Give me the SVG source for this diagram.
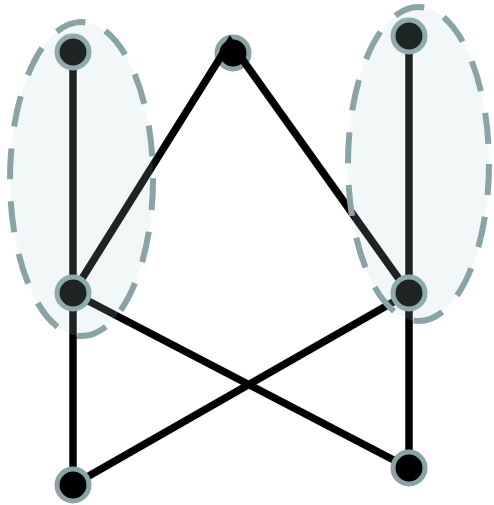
<svg xmlns="http://www.w3.org/2000/svg" width="494" height="505" viewBox="0 0 494 505">
<style>
.edge{fill:none;stroke:#000;stroke-width:7.5;stroke-linejoin:miter;stroke-miterlimit:10}
.node{fill:#000;stroke:#8aa3a5;stroke-width:5}
.group{fill:#b0d4d8;fill-opacity:0.17;stroke:#8aa3a5;stroke-width:6;stroke-dasharray:31 22}
</style>
<rect width="494" height="505" fill="#fff"/>
<g id="n-top"><circle class="node" cx="233" cy="53" r="16"/></g>
<g id="connectors">
<line class="edge" x1="73" y1="52" x2="73" y2="293"/>
<line class="edge" x1="73" y1="293" x2="73" y2="485"/>
<line class="edge" x1="409" y1="36" x2="409" y2="293"/>
<line class="edge" x1="409" y1="293" x2="409" y2="468"/>
<line class="edge" x1="73" y1="293" x2="409" y2="468"/>
<line class="edge" x1="73" y1="485" x2="409" y2="293"/>
<polyline class="edge" points="73,293 230,42 409,293"/>
</g>
<g id="n-tl"><circle class="node" cx="73" cy="52" r="16"/></g>
<g id="n-tr"><circle class="node" cx="409" cy="36" r="16"/></g>
<g id="n-ml"><circle class="node" cx="73" cy="293" r="16"/></g>
<g id="n-mr"><circle class="node" cx="409" cy="293" r="16"/></g>
<g id="n-bl"><circle class="node" cx="73" cy="485" r="16"/></g>
<g id="n-br"><circle class="node" cx="409" cy="468" r="16"/></g>
<g id="group-left"><ellipse class="group" cx="81.5" cy="179" rx="71.5" ry="157"/></g>
<g id="group-right"><ellipse class="group" cx="418.5" cy="164" rx="70.5" ry="157"/></g>
</svg>
